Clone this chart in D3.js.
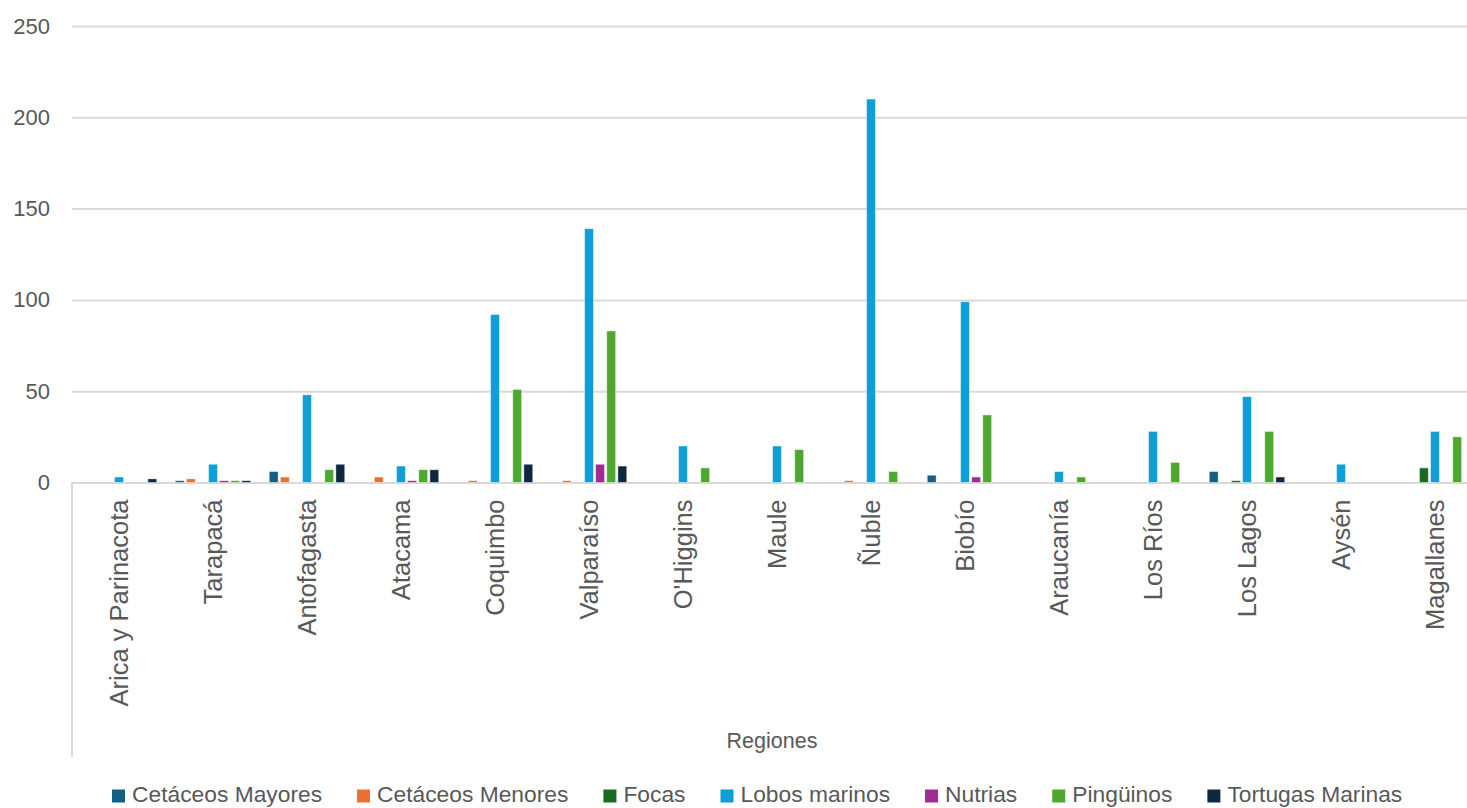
<!DOCTYPE html>
<html>
<head>
<meta charset="utf-8">
<script src="https://cdn.jsdelivr.net/npm/d3@7"></script>
<style>
  html, body { margin: 0; padding: 0; background: #fff; }
  svg { display: block; }
  text { font-family: "Liberation Sans", Arial, sans-serif; fill: #595959; }
</style>
</head>
<body>
<svg id="chart" width="1467" height="808"></svg>
<script>
const regions = ["Arica y Parinacota", "Tarapacá", "Antofagasta", "Atacama", "Coquimbo", "Valparaíso", "O'Higgins", "Maule", "Ñuble", "Biobío", "Araucanía", "Los Ríos", "Los Lagos", "Aysén", "Magallanes"];
const seriesNames = ["Cetáceos Mayores", "Cetáceos Menores", "Focas", "Lobos marinos", "Nutrias", "Pingüinos", "Tortugas Marinas"];
const seriesColors = ["#156082", "#E97132", "#196B24", "#0F9ED5", "#A02B93", "#4EA72E", "#0E2841"];

const cetaceosMayores = [0, 1, 6, 0, 0, 0, 0, 0, 0, 4, 0, 0, 6, 0, 0];
const cetaceosMenores = [0, 2, 3, 3, 1, 1, 0, 0, 1, 0, 0, 0, 0, 0, 0];
const focas          = [0, 0, 0, 0, 0, 0, 0, 0, 0, 0, 0, 0, 1, 0, 8];
const lobosMarinos   = [3, 10, 48, 9, 92, 139, 20, 20, 210, 99, 6, 28, 47, 10, 28];
const nutrias        = [0, 1, 0, 1, 0, 10, 0, 0, 0, 3, 0, 0, 0, 0, 0];
const pinguinos      = [0, 1, 7, 7, 51, 83, 8, 18, 6, 37, 3, 11, 28, 0, 25];
const tortugasMarinas= [2, 1, 10, 7, 10, 9, 0, 0, 0, 0, 0, 0, 3, 0, 0];

const yTicks = [0, 50, 100, 150, 200, 250];
const xTitle = "Regiones";

const seriesValues = [cetaceosMayores, cetaceosMenores, focas, lobosMarinos, nutrias, pinguinos, tortugasMarinas];

const svg = d3.select("#chart");

const plot = { left: 72, right: 1482, top: 26, bottom: 482.5 };

const x0 = d3.scaleBand().domain(regions).range([plot.left, plot.right])
  .paddingInner(0.173).paddingOuter(0.0865);
const x1 = d3.scaleBand().domain(seriesNames).range([0, x0.bandwidth()])
  .paddingInner(0.2).paddingOuter(0.1);
const y = d3.scaleLinear().domain([0, 250]).range([plot.bottom, plot.top]);

// gridlines
const yAxis = d3.axisLeft(y).tickValues(yTicks).tickSize(-(1467 - plot.left)).tickPadding(22);
const gy = svg.append("g").attr("transform", `translate(${plot.left},0)`).call(yAxis);
gy.select(".domain").remove();
gy.selectAll(".tick line").attr("stroke", "#d9d9d9").attr("stroke-width", 2);
gy.selectAll(".tick text").attr("font-size", "22px").attr("fill", "#595959")
  .attr("font-family", "Liberation Sans, Arial, sans-serif");

// left category-axis line
svg.append("line")
  .attr("x1", plot.left).attr("x2", plot.left)
  .attr("y1", y(0)).attr("y2", 757)
  .attr("stroke", "#d9d9d9").attr("stroke-width", 2);

// bars
const groups = svg.append("g").selectAll("g")
  .data(regions.map((r, i) => ({ region: r, values: seriesValues.map((s, j) => ({ name: seriesNames[j], value: s[i], color: seriesColors[j] })) })))
  .join("g")
  .attr("transform", d => `translate(${x0(d.region)},0)`);

groups.selectAll("rect")
  .data(d => d.values.filter(v => v.value > 0))
  .join("rect")
  .attr("x", d => x1(d.name))
  .attr("width", x1.bandwidth())
  .attr("y", d => y(d.value))
  .attr("height", d => y(0) - y(d.value))
  .attr("fill", d => d.color)
  .attr("stroke", "#ffffff")
  .attr("stroke-opacity", 0.55)
  .attr("stroke-width", 0.8);

// x axis category labels
const xAxis = d3.axisBottom(x0).tickSize(0).tickPadding(0);
const gx = svg.append("g").attr("transform", `translate(0,${y(0)})`).call(xAxis);
gx.select(".domain").remove();
gx.selectAll(".tick text")
  .attr("font-size", "25.5px")
  .attr("fill", "#595959")
  .attr("font-family", "Liberation Sans, Arial, sans-serif")
  .attr("text-anchor", "end")
  .attr("transform", "rotate(-90)")
  .attr("x", -17)
  .attr("y", 0)
  .attr("dy", "0.35em");

// axis title
svg.append("text")
  .attr("x", 772).attr("y", 747.5)
  .attr("text-anchor", "middle")
  .attr("font-size", "21.5px")
  .text(xTitle);

// legend
const legend = svg.append("g");
let lx = 112;
seriesNames.forEach((name, i) => {
  const g = legend.append("g");
  g.append("rect").attr("x", lx).attr("y", 789.5).attr("width", 13).attr("height", 13).attr("fill", seriesColors[i]);
  const t = g.append("text").attr("x", lx + 20).attr("y", 802).attr("font-size", "22.8px").text(name);
  lx += 20 + t.node().getComputedTextLength() + 35;
});
</script>
</body>
</html>
